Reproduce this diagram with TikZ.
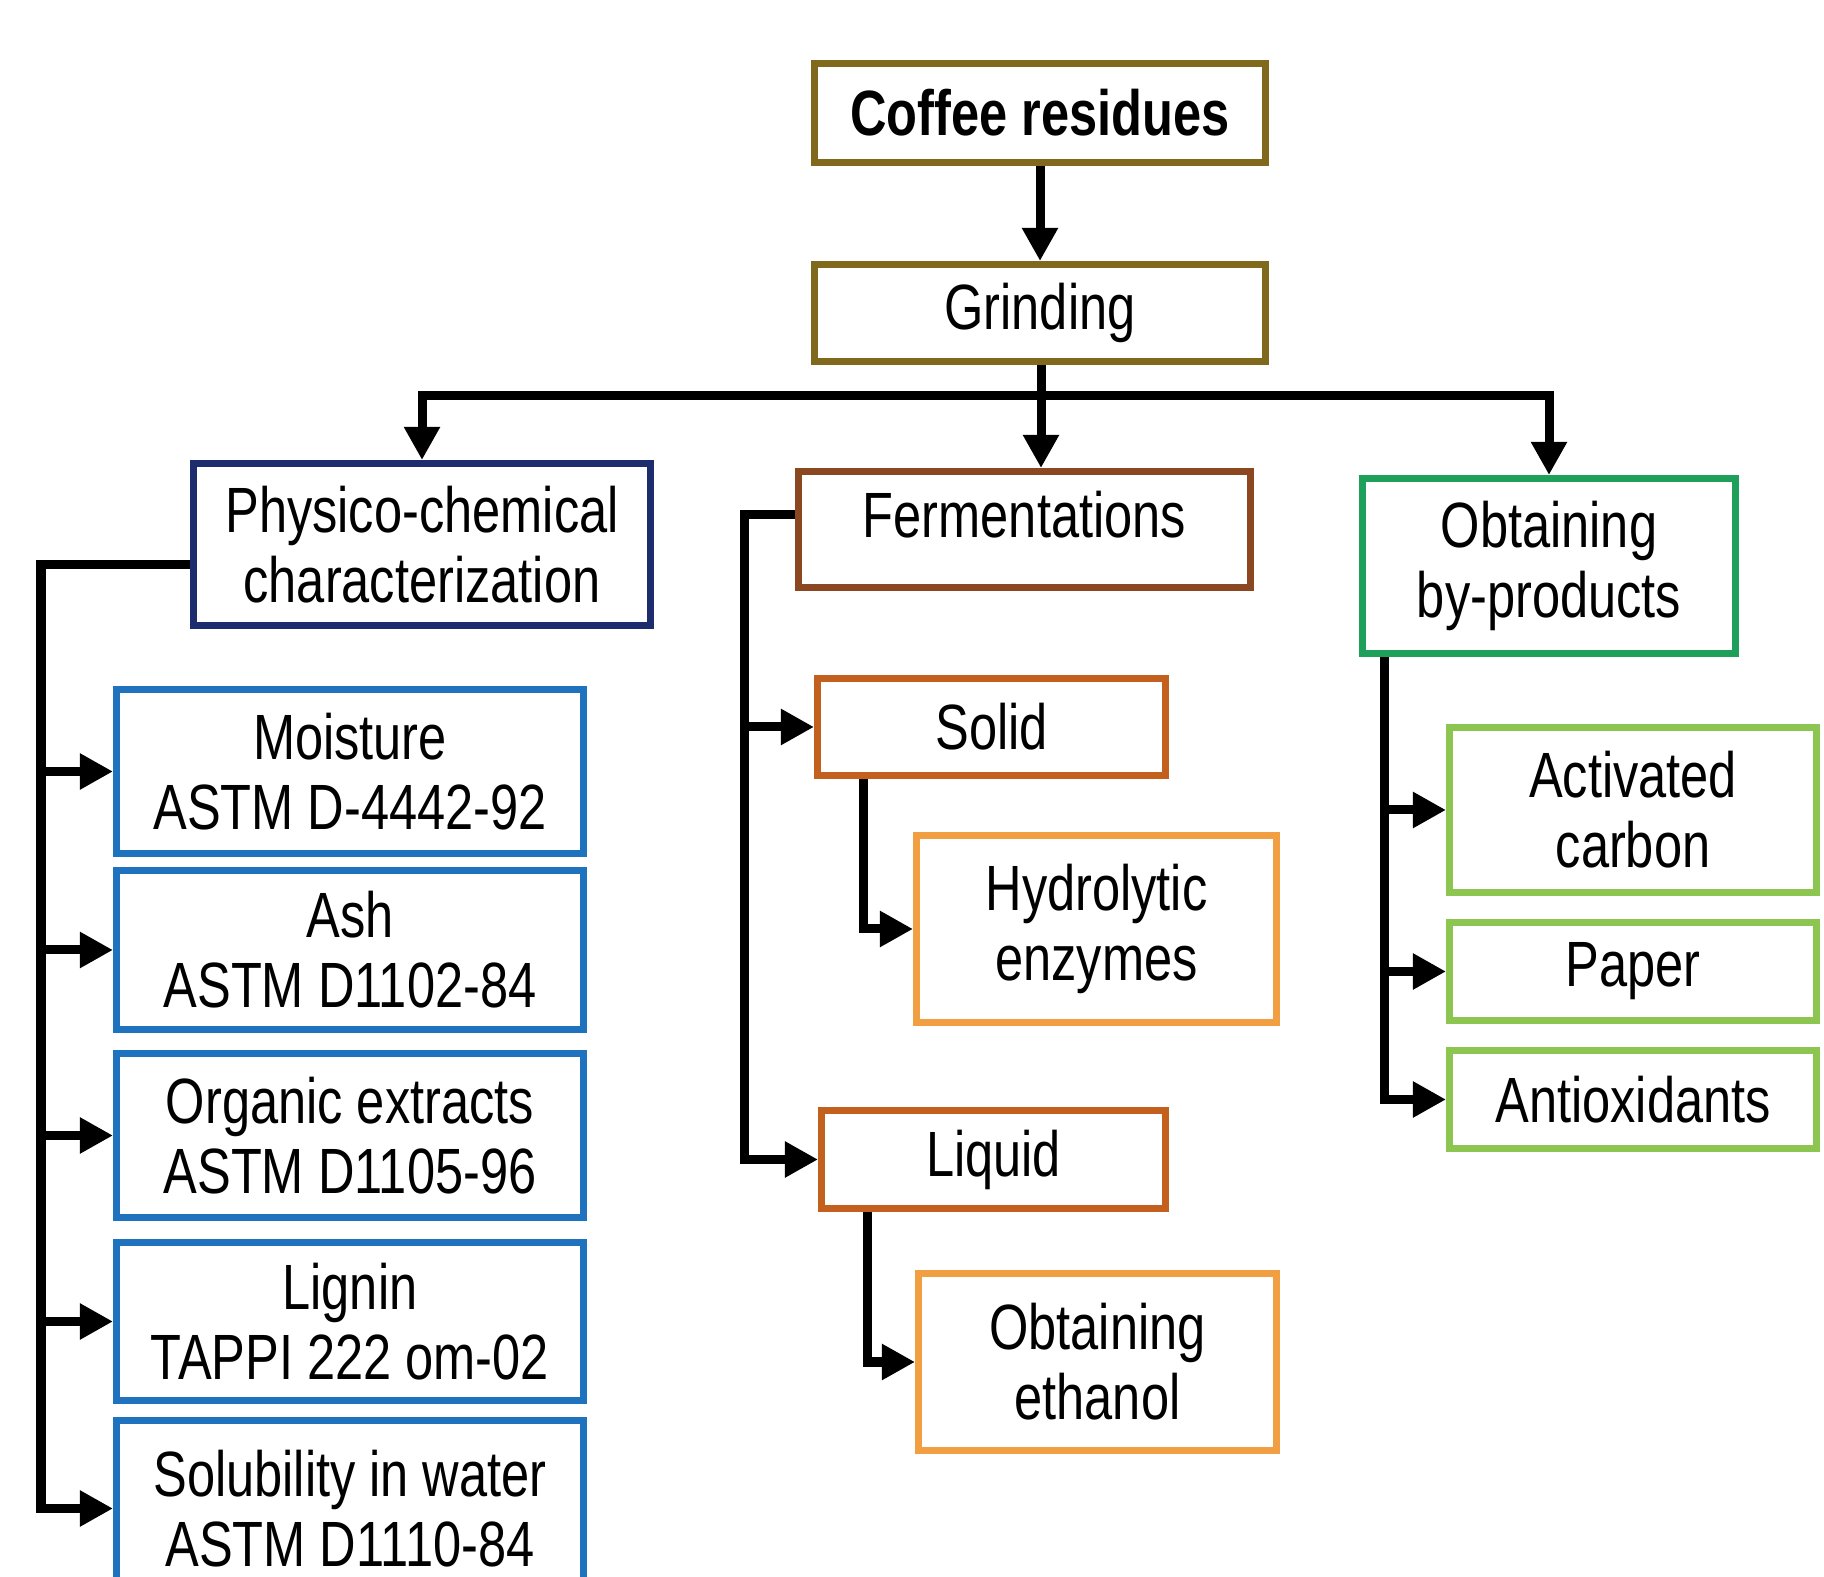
\documentclass[tikz,border=0pt]{standalone}
\usepackage{fontspec}
\setmainfont{Liberation Sans}[FakeStretch=0.79]
\usetikzlibrary{arrows.meta,calc}
\definecolor{olivebr}{RGB}{128,104,28}
\definecolor{navyb}{RGB}{28,44,108}
\definecolor{midblue}{RGB}{31,114,190}
\definecolor{fermbr}{RGB}{139,72,32}
\definecolor{orgdark}{RGB}{196,96,30}
\definecolor{orglight}{RGB}{242,158,66}
\definecolor{greendk}{RGB}{30,160,90}
\definecolor{greenlt}{RGB}{140,198,80}
\begin{document}
\begin{tikzpicture}[x=0.01cm,y=-0.01cm,
  bx/.style={draw=#1, line width=0.07cm, fill=white, inner sep=0pt, align=center, font=\fontsize{18.2}{19.9}\selectfont},
  txt/.style={inner sep=0pt, align=center, font=\fontsize{18.2}{19.9}\selectfont},
  sz/.style 2 args={minimum width=#1*0.01cm, minimum height=#2*0.01cm},
  conn/.style={line width=0.09cm, black},
  arr/.style={conn, -{Triangle[length=0.33cm,width=0.34cm]}},
]
\clip (0,0) rectangle (1824,1577);
\fill[white] (0,0) rectangle (1824,1577);

% top
\node[bx=olivebr, sz={451}{99}] (coffee) at (1040,113) {\bfseries Coffee residues};
\node[bx=olivebr, sz={451}{97}] (grind) at (1040,313) {Grinding};

% level 2
\node[bx=navyb, sz={457}{162}] (phys) at (422,544.5) {Physico-chemical\\characterization};
\node[bx=fermbr, sz={452}{116}] (ferm) at (1024.5,529.5) {};
\node[txt] (fermtxt) at ($(ferm.center)+(0,-15)$) {Fermentations};
\node[bx=greendk, sz={373}{175}] (byp) at (1549,566) {Obtaining\\by-products};

% physico-chemical children
\node[bx=midblue, sz={467}{164}] (moist) at (350,771.5) {Moisture\\ASTM D-4442-92};
\node[bx=midblue, sz={467}{159}] (ash) at (350,950) {Ash\\ASTM D1102-84};
\node[bx=midblue, sz={467}{164}] (org) at (350,1135.5) {Organic extracts\\ASTM D1105-96};
\node[bx=midblue, sz={467}{158}] (lig) at (350,1321.5) {Lignin\\TAPPI 222 om-02};
\node[bx=midblue, sz={467}{176}] (solu) at (350,1508.5) {Solubility in water\\ASTM D1110-84};

% fermentation children
\node[bx=orgdark, sz={348}{97}] (solid) at (991.5,727) {Solid};
\node[bx=orglight, sz={360}{187}] (hydro) at (1096.5,929) {Hydrolytic\\enzymes};
\node[bx=orgdark, sz={344}{98}] (liq) at (993.5,1159.5) {Liquid};
\node[bx=orglight, sz={358}{177}] (eth) at (1097.5,1362) {Obtaining\\ethanol};

% by-products children
\node[bx=greenlt, sz={367}{165}] (act) at (1633,810) {Activated\\carbon};
\node[bx=greenlt, sz={367}{98}] (paper) at (1633,971.5) {Paper};
\node[bx=greenlt, sz={367}{98}] (anti) at (1633,1099.5) {Antioxidants};

% connectors: top
\draw[arr] (coffee) -- (grind);
\coordinate (bus) at (1041,396);
\draw[conn] (grind.south -| bus) -- (bus);
\draw[arr] (bus) -| (phys.north);
\draw[arr] (bus) -| (byp.north);
\draw[arr] (bus) -- (bus |- ferm.north);

% physico spine
\coordinate (pspine) at (41,564);
\draw[arr] ($(phys.west)+(0,20)$) -| (pspine |- solu.west) -- (solu.west);
\draw[arr] (pspine |- moist.west) -- (moist.west);
\draw[arr] (pspine |- ash.west) -- (ash.west);
\draw[arr] (pspine |- org.west) -- (org.west);
\draw[arr] (pspine |- lig.west) -- (lig.west);

% fermentation spine
\coordinate (fspine) at (744,515);
\draw[arr] ($(ferm.west)+(0,-15)$) -| (fspine |- liq.west) -- (liq.west);
\draw[arr] (fspine |- solid.west) -- (solid.west);
\draw[arr] ([xshift=0.49cm]solid.south west) |- (hydro.west);
\draw[arr] ([xshift=0.49cm]liq.south west) |- (eth.west);

% by-products spine
\coordinate (bspine) at ([xshift=0.25cm]byp.south west);
\draw[arr] (bspine) |- (anti.west);
\draw[arr] (bspine |- act.west) -- (act.west);
\draw[arr] (bspine |- paper.west) -- (paper.west);
\end{tikzpicture}
\end{document}
